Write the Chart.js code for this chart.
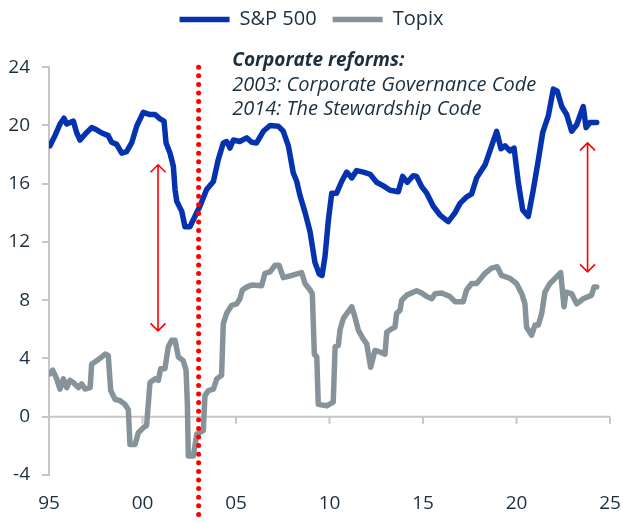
<!DOCTYPE html>
<html>
<head>
<meta charset="utf-8">
<script src="https://cdn.jsdelivr.net/npm/chart.js@4.4.1/dist/chart.umd.min.js"></script>
<style>
    html, body { margin: 0; padding: 0; background: #ffffff; }
    #wrap { width: 623px; height: 523px; position: relative; }
</style>
</head>
<body>
<div id="wrap"><canvas id="peChart"></canvas></div>
<script>
// S&P 500 (year, value)
const spxYears = [
    1995.05, 1995.32, 1995.59, 1995.8, 1995.95, 1996.3, 1996.48, 1996.66, 1997.0, 1997.28,
    1997.55, 1997.8, 1998.17, 1998.35, 1998.62, 1998.89, 1999.15, 1999.42, 1999.69, 2000.04,
    2000.4, 2000.67, 2000.94, 2001.15, 2001.26, 2001.47, 2001.65, 2001.74, 2001.83, 2002.1,
    2002.27, 2002.54, 2002.8, 2003.07, 2003.43, 2003.79, 2004.05, 2004.32, 2004.5, 2004.68,
    2004.86, 2005.2, 2005.57, 2005.84, 2006.1, 2006.46, 2006.82, 2007.26, 2007.53, 2007.8,
    2008.06, 2008.25, 2008.42, 2008.7, 2008.96, 2009.22, 2009.45, 2009.6, 2009.76, 2009.94,
    2010.12, 2010.38, 2010.65, 2010.92, 2011.19, 2011.45, 2011.81, 2012.17, 2012.52, 2012.88,
    2013.24, 2013.68, 2013.91, 2014.16, 2014.48, 2014.66, 2014.93, 2015.2, 2015.55, 2015.91,
    2016.35, 2016.71, 2016.98, 2017.34, 2017.6, 2017.87, 2018.32, 2018.67, 2018.94, 2019.17,
    2019.39, 2019.65, 2019.87, 2020.1, 2020.33, 2020.63, 2020.9, 2021.17, 2021.4, 2021.7,
    2021.97, 2022.18, 2022.42, 2022.68, 2022.95, 2023.22, 2023.57, 2023.72, 2023.93, 2024.29
];
const spxValues = [
    18.6, 19.3, 20.1, 20.5, 20.1, 20.3, 19.5, 19.0, 19.5, 19.85,
    19.7, 19.5, 19.3, 18.85, 18.7, 18.1, 18.2, 18.8, 19.95, 20.9,
    20.75, 20.75, 20.45, 20.3, 18.8, 18.1, 17.2, 15.6, 14.8, 14.1,
    13.05, 13.05, 13.75, 14.45, 15.6, 16.15, 17.65, 18.8, 18.9, 18.45,
    19.0, 18.9, 19.15, 18.85, 18.8, 19.6, 20.0, 19.95, 19.6, 18.6,
    16.75, 16.15, 15.2, 14.0, 12.7, 10.6, 9.8, 9.7, 11.0, 13.5,
    15.35, 15.35, 16.15, 16.8, 16.4, 16.9, 16.8, 16.65, 16.1, 15.85,
    15.55, 15.45, 16.5, 16.1, 16.55, 16.5, 15.8, 15.35, 14.45, 13.85,
    13.4, 14.0, 14.65, 15.1, 15.3, 16.4, 17.3, 18.6, 19.6, 18.4,
    18.6, 18.25, 18.45, 16.05, 14.2, 13.75, 15.6, 17.65, 19.5, 20.65,
    22.5, 22.35, 21.3, 20.75, 19.6, 20.05, 21.3, 19.85, 20.2, 20.2
];

// Topix (year, value)
const topixYears = [
    1995.05, 1995.2, 1995.41, 1995.59, 1995.77, 1995.95, 1996.12, 1996.3, 1996.57, 1996.75,
    1996.93, 1997.2, 1997.28, 1997.55, 1997.82, 1998.0, 1998.17, 1998.3, 1998.53, 1998.8,
    1999.06, 1999.24, 1999.33, 1999.6, 1999.78, 2000.04, 2000.22, 2000.4, 2000.67, 2000.85,
    2000.97, 2001.2, 2001.38, 2001.56, 2001.74, 2001.92, 2002.18, 2002.33, 2002.4, 2002.45,
    2002.72, 2002.9, 2003.25, 2003.34, 2003.52, 2003.79, 2003.97, 2004.23, 2004.32, 2004.5,
    2004.77, 2005.04, 2005.21, 2005.34, 2005.57, 2005.84, 2006.37, 2006.55, 2006.82, 2007.09,
    2007.3, 2007.53, 2007.98, 2008.51, 2008.69, 2008.96, 2009.08, 2009.19, 2009.32, 2009.4,
    2009.85, 2010.2, 2010.3, 2010.47, 2010.56, 2010.74, 2011.19, 2011.36, 2011.54, 2011.8,
    2011.99, 2012.2, 2012.43, 2012.7, 2012.97, 2013.06, 2013.33, 2013.5, 2013.59, 2013.77,
    2013.86, 2014.13, 2014.66, 2014.93, 2015.2, 2015.47, 2015.64, 2016.0, 2016.44, 2016.71,
    2017.15, 2017.33, 2017.6, 2017.87, 2018.32, 2018.67, 2018.97, 2019.2, 2019.65, 2020.0,
    2020.28, 2020.45, 2020.54, 2020.81, 2020.99, 2021.17, 2021.35, 2021.52, 2021.79, 2022.06,
    2022.36, 2022.54, 2022.65, 2022.95, 2023.22, 2023.57, 2024.02, 2024.14, 2024.29
];
const topixValues = [
    2.95, 3.2, 2.6, 1.9, 2.6, 2.0, 2.5, 2.35, 2.0, 2.25,
    1.9, 2.0, 3.6, 3.85, 4.1, 4.3, 4.2, 1.8, 1.2, 1.1,
    0.85, 0.5, -1.9, -1.9, -1.1, -0.75, -0.6, 2.35, 2.6, 2.5,
    3.3, 3.3, 4.8, 5.25, 5.25, 4.1, 3.85, 3.2, 0.85, -2.7,
    -2.7, -1.2, -0.95, 1.45, 1.8, 1.9, 2.6, 2.85, 6.4, 7.1,
    7.65, 7.75, 8.1, 8.7, 8.9, 9.05, 9.0, 9.85, 9.95, 10.4,
    10.4, 9.55, 9.7, 9.9, 9.15, 8.7, 8.45, 4.3, 4.1, 0.85,
    0.75, 1.0, 4.8, 4.9, 5.95, 6.75, 7.55, 6.85, 5.95, 5.35,
    5.0, 3.4, 4.55, 4.45, 4.3, 5.8, 6.05, 6.15, 7.1, 7.3,
    8.0, 8.35, 8.65, 8.5, 8.25, 8.1, 8.45, 8.5, 8.25, 7.9,
    7.9, 8.7, 9.15, 9.15, 9.85, 10.2, 10.3, 9.7, 9.5, 9.15,
    8.45, 7.75, 6.15, 5.6, 6.3, 6.3, 7.1, 8.55, 9.15, 9.5,
    9.9, 7.55, 8.55, 8.45, 7.75, 8.1, 8.35, 8.9, 8.9
];

const xTickYears = [1995, 2000, 2005, 2010, 2015, 2020, 2025];
const xTickLabels = ['95', '00', '05', '10', '15', '20', '25'];

// reform year marker and the two gap arrows [year, from, to]
const reformYear = 2003;
const gapArrows = [
    [2000.83, 17.3, 5.9],
    [2023.8, 18.8, 9.95]
];
const noteLines = [
    'Corporate reforms:',
    '2003: Corporate Governance Code',
    '2014: The Stewardship Code'
];

const colors = {
    blue: '#0533b0',
    grey: '#86939b',
    axis: '#c6c6c6',
    text: '#1b2f3e',
    red: '#ff0000'
};

const font = '"Open Sans", Lato, sans-serif';

const toPoints = (xs, ys) => xs.map((x, i) => ({ x: x, y: ys[i] }));

// zero line, dotted marker, arrows and note
const overlay = {
    id: 'overlay',
    beforeDatasetsDraw(chart) {
        const { ctx, scales: { x, y } } = chart;
        const y0 = y.getPixelForValue(0);
        ctx.save();
        ctx.strokeStyle = colors.axis;
        ctx.lineWidth = 2;
        ctx.beginPath();
        ctx.moveTo(x.left, y0);
        ctx.lineTo(x.right, y0);
        xTickYears.forEach(yr => {
            const px = x.getPixelForValue(yr);
            ctx.moveTo(px, y0);
            ctx.lineTo(px, y0 + 7);
        });
        ctx.stroke();
        ctx.restore();
    },
    afterDatasetsDraw(chart) {
        const { ctx, scales: { x, y } } = chart;
        ctx.save();

        // dotted vertical line
        const rx = x.getPixelForValue(reformYear);
        ctx.strokeStyle = colors.red;
        ctx.lineWidth = 5;
        ctx.lineCap = 'round';
        ctx.setLineDash([0, 8.6]);
        ctx.beginPath();
        ctx.moveTo(rx, y.getPixelForValue(24));
        ctx.lineTo(rx, chart.height - 3);
        ctx.stroke();
        ctx.setLineDash([]);

        // double-headed arrows
        ctx.lineWidth = 1.6;
        ctx.lineCap = 'butt';
        gapArrows.forEach(([yr, top, bottom]) => {
            const ax = x.getPixelForValue(yr);
            const t = y.getPixelForValue(top);
            const b = y.getPixelForValue(bottom);
            ctx.beginPath();
            ctx.moveTo(ax, t);
            ctx.lineTo(ax, b);
            ctx.moveTo(ax - 7.5, t + 7.5);
            ctx.lineTo(ax, t);
            ctx.lineTo(ax + 7.5, t + 7.5);
            ctx.moveTo(ax - 7.5, b - 7.5);
            ctx.lineTo(ax, b);
            ctx.lineTo(ax + 7.5, b - 7.5);
            ctx.stroke();
        });

        // note text
        const nx = x.getPixelForValue(2004.8);
        const ny = y.getPixelForValue(24) - 1;
        ctx.fillStyle = colors.text;
        ctx.textAlign = 'left';
        ctx.textBaseline = 'alphabetic';
        noteLines.forEach((line, i) => {
            ctx.font = (i === 0 ? 'italic bold 19px ' : 'italic 20px ') + font;
            ctx.fillText(line, nx, ny + i * 24.5);
        });
        ctx.restore();
    }
};

const ctx = document.getElementById('peChart').getContext('2d');
new Chart(ctx, {
    type: 'line',
    data: {
        datasets: [{
            label: 'S&P 500',
            data: toPoints(spxYears, spxValues),
            borderColor: colors.blue,
            backgroundColor: colors.blue,
            borderWidth: 5.5,
            borderCapStyle: 'round',
            borderJoinStyle: 'round',
            pointRadius: 0,
            tension: 0
        }, {
            label: 'Topix',
            data: toPoints(topixYears, topixValues),
            borderColor: colors.grey,
            backgroundColor: colors.grey,
            borderWidth: 5.5,
            borderCapStyle: 'round',
            borderJoinStyle: 'round',
            pointRadius: 0,
            tension: 0
        }]
    },
    options: {
        responsive: true,
        maintainAspectRatio: false,
        animation: false,
        layout: { padding: { left: 0, right: 0, top: -6.5, bottom: 0 } },
        plugins: {
            legend: {
                position: 'top',
                weight: 1000,
                labels: {
                    usePointStyle: true,
                    pointStyle: 'line',
                    pointStyleWidth: 50,
                    color: colors.text,
                    font: { family: font, size: 20 },
                    padding: 16
                }
            },
            // empty spacer under the legend
            subtitle: {
                display: true,
                text: '',
                weight: 500,
                font: { size: 1 },
                padding: { top: 26.5, bottom: 0 }
            },
            tooltip: { enabled: false }
        },
        scales: {
            x: {
                type: 'linear',
                min: 1995,
                max: 2025,
                grid: { display: false, drawTicks: false },
                border: { display: false },
                ticks: {
                    stepSize: 5,
                    color: colors.text,
                    font: { family: font, size: 19 },
                    padding: 17,
                    maxRotation: 0,
                    callback: v => xTickLabels[xTickYears.indexOf(v)]
                },
                afterFit: s => { s.height = 48; s.paddingRight = 13; }
            },
            y: {
                min: -4,
                max: 24,
                grid: { drawOnChartArea: false, drawTicks: true, tickLength: 7, color: colors.axis, lineWidth: 2 },
                border: { color: colors.axis, width: 2 },
                ticks: {
                    stepSize: 4,
                    color: colors.text,
                    font: { family: font, size: 19 },
                    padding: 12
                },
                afterFit: s => { s.width = 49; }
            }
        }
    },
    plugins: [overlay]
});
</script>
</body>
</html>
